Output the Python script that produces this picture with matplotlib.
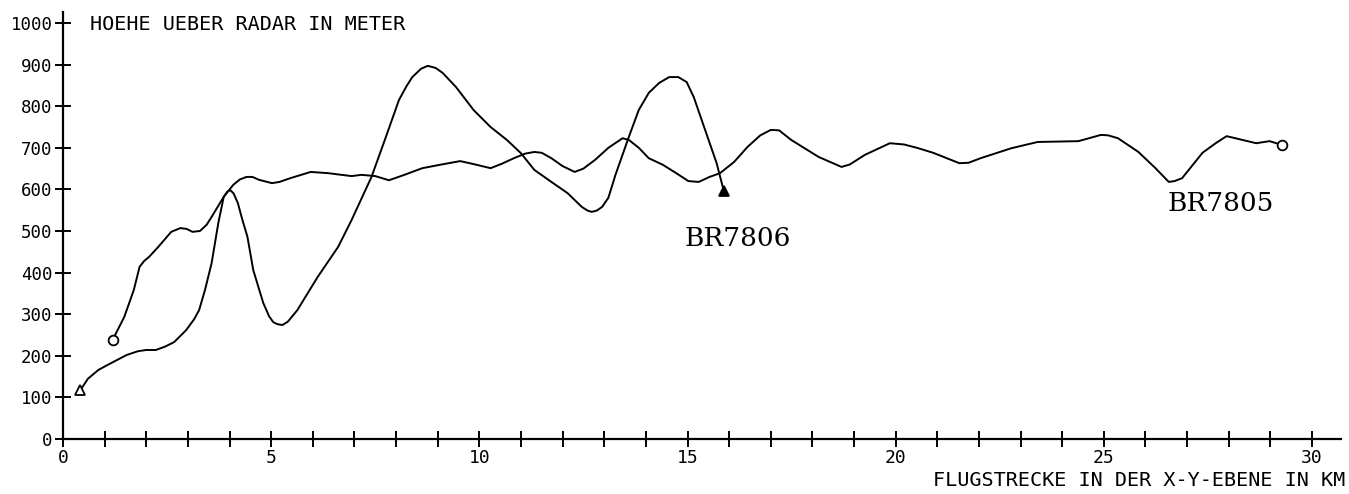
import matplotlib
matplotlib.use("Agg")
import matplotlib.pyplot as plt

# BR7806 flight track (triangle markers)
br7806_km = [0.42, 0.6, 0.85, 1.07, 1.3, 1.53, 1.8, 2.0, 2.23, 2.45, 2.67, 2.96, 3.15, 3.27,
             3.41, 3.57, 3.73, 3.86, 3.95, 4.02, 4.1, 4.2, 4.3, 4.43, 4.57, 4.81, 4.95,
             5.05, 5.15, 5.27, 5.4, 5.63, 6.12, 6.61, 6.93, 7.17, 7.41, 7.73, 8.07, 8.25,
             8.39, 8.6, 8.76, 8.95, 9.12, 9.44, 9.86, 10.27, 10.66, 11.0, 11.32, 11.73,
             12.12, 12.46, 12.6, 12.7, 12.82, 12.95, 13.1, 13.27, 13.59, 13.83, 14.07,
             14.32, 14.56, 14.78, 14.98, 15.15, 15.34, 15.53, 15.7, 15.87]
br7806_m = [118, 145, 166, 178, 190, 202, 211, 214, 214, 222, 233, 262, 288, 310,
            358, 423, 519, 582, 595, 598, 590, 567, 530, 486, 406, 327, 295,
            281, 276, 274, 282, 310, 390, 462, 526, 578, 630, 719, 815, 848,
            870, 890, 897, 892, 880, 846, 791, 750, 719, 687, 647, 618,
            591, 558, 549, 546, 549, 558, 580, 635, 726, 791, 832,
            856, 870, 870, 858, 822, 767, 712, 663, 597]

# BR7805 flight track (circle markers)
br7805_km = [1.19, 1.47, 1.7, 1.84, 1.95, 2.07, 2.29, 2.6, 2.82, 2.97, 3.11, 3.29, 3.45,
             3.57, 3.86, 4.09, 4.25, 4.41, 4.55, 4.71, 5.02, 5.2, 5.46, 5.95, 6.37, 6.93,
             7.17, 7.5, 7.83, 8.2, 8.63, 9.1, 9.54, 9.9, 10.27, 10.55, 10.83, 11.1, 11.32,
             11.5, 11.73, 12.0, 12.29, 12.5, 12.78, 13.1, 13.44, 13.59, 13.83, 14.07,
             14.41, 14.73, 15.02, 15.27, 15.53, 15.78, 16.12, 16.44, 16.75, 17.0, 17.2,
             17.49, 18.15, 18.7, 18.9, 19.26, 19.86, 20.2, 20.51, 20.9, 21.53, 21.75,
             22.04, 22.78, 23.41, 24.39, 24.93, 25.1, 25.34, 25.83, 26.24, 26.56, 26.7,
             26.88, 27.37, 27.7, 27.95, 28.2, 28.66, 28.98, 29.27]
br7805_m = [238, 293, 358, 414, 428, 438, 462, 498, 507, 505, 498, 500, 515,
            534, 582, 611, 624, 630, 630, 623, 615, 618, 627, 642, 639, 632,
            635, 632, 622, 635, 651, 660, 668, 660, 651, 662, 675, 686, 690,
            688, 675, 656, 642, 650, 671, 700, 723, 719, 700, 675,
            659, 639, 620, 618, 630, 639, 666, 702, 730, 743, 742,
            719, 678, 654, 660, 683, 711, 708, 700, 688, 663, 664,
            675, 699, 714, 716, 731, 730, 723, 690, 651, 618, 620,
            627, 688, 712, 728, 722, 711, 716, 707]

x_ticks = list(range(0, 31))
x_labels = [str(t) if t % 5 == 0 else "" for t in x_ticks]
y_ticks = list(range(0, 1001, 100))
y_labels = [str(t) for t in y_ticks]

W, H = 1349, 494
fig = plt.figure(figsize=(W / 100, H / 100), dpi=100)
left, right, bottom_px, top_px = 63, 1341, 439, 12
ax = fig.add_axes([left / W, (H - bottom_px) / H, (right - left) / W, (bottom_px - top_px) / H])

km_per_px = 30 / (1312 - 63)
m_per_px = 1000 / (439 - 23)
ax.set_xlim(0, (right - left) * km_per_px)
ax.set_ylim(0, (bottom_px - top_px) * m_per_px)

lw = 1.4
ax.plot(br7806_km, br7806_m, color="black", lw=lw, solid_joinstyle="round")
ax.plot(br7805_km, br7805_m, color="black", lw=lw, solid_joinstyle="round")
ax.plot([br7806_km[0]], [br7806_m[0]], marker="^", ms=7, mfc="white", mec="black", mew=1.3, ls="none")
ax.plot([br7806_km[-1]], [br7806_m[-1]], marker="^", ms=7, mfc="black", mec="black", mew=1.3, ls="none")
ax.plot([br7805_km[0], br7805_km[-1]], [br7805_m[0], br7805_m[-1]], marker="o", ms=7,
        mfc="white", mec="black", mew=1.3, ls="none")

for s in ["top", "right"]:
    ax.spines[s].set_visible(False)
for s in ["left", "bottom"]:
    ax.spines[s].set_linewidth(1.6)

mono = "DejaVu Sans Mono"
ax.set_xticks(x_ticks)
ax.set_xticklabels(x_labels, fontfamily=mono, fontsize=13)
ax.set_yticks(y_ticks)
ax.set_yticklabels(y_labels, fontfamily=mono, fontsize=12.5)
ax.tick_params(axis="x", direction="inout", length=11, width=1.4, pad=2)
ax.tick_params(axis="y", direction="inout", length=11, width=1.4, pad=2)

ax.text(16.2, 483, "BR7806", fontfamily="DejaVu Serif", fontsize=19, ha="center", va="center")
ax.text(27.8, 567, "BR7805", fontfamily="DejaVu Serif", fontsize=19, ha="center", va="center")

fig.text(90 / W, 1 - 25 / H, "HOEHE UEBER RADAR IN METER", fontfamily=mono, fontsize=14.5,
         ha="left", va="center")
fig.text(1345 / W, 1 - 480 / H, "FLUGSTRECKE IN DER X-Y-EBENE IN KM", fontfamily=mono,
         fontsize=14.5, ha="right", va="center")

fig.savefig("out.png", dpi=100)
